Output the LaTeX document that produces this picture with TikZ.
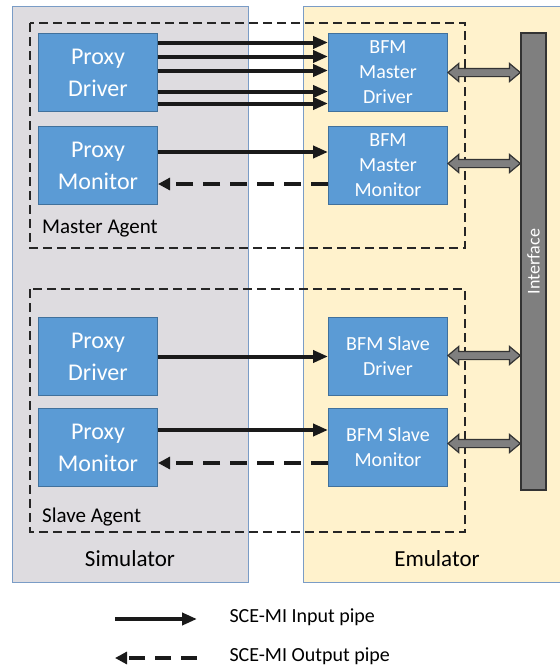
\documentclass[tikz,border=0pt]{standalone}
\usepackage{fontspec}
\setmainfont{Carlito}
\usetikzlibrary{arrows.meta,positioning,shapes.arrows,calc}
\definecolor{boxblue}{HTML}{5B9BD5}
\definecolor{boxedge}{HTML}{41719C}
\definecolor{simgray}{HTML}{DEDCE0}
\definecolor{emuyellow}{HTML}{FFF2CC}
\definecolor{zoneedge}{HTML}{7A9CC6}
\definecolor{ifgray}{HTML}{7F7F7F}
\definecolor{pipeblack}{HTML}{1A1A1A}

\begin{document}
\begin{tikzpicture}[x=1pt, y=-1pt,
  zone/.style={draw=zoneedge, line width=1pt, anchor=north west, inner sep=0pt},
  agent/.style={draw=black!85, line width=1.2pt, dash pattern=on 9pt off 5pt},
  proxy/.style={draw=boxedge, fill=boxblue, text=white, line width=1pt, anchor=north west,
                minimum width=119pt, minimum height=78pt, align=center,
                font=\fontsize{24}{32}\selectfont},
  bfm/.style={proxy, font=\fontsize{20}{25}\selectfont},
  tag/.style={anchor=base west, font=\fontsize{21}{24}\selectfont, inner sep=0pt},
  zonename/.style={anchor=base, font=\fontsize{23}{26}\selectfont, inner sep=0pt},
  inpipe/.style={draw=pipeblack, line width=4pt, -{Triangle[length=15pt,width=12pt]}},
  outpipe/.style={draw=pipeblack, line width=4pt, dash pattern=on 17pt off 10pt,
                  -{Triangle[length=12pt,width=12pt]}},
  fatlink/.style={double arrow, draw=black!80, fill=ifgray, line width=1.2pt,
                  inner xsep=0pt, inner ysep=3.5pt, minimum width=17pt,
                  double arrow head extend=5pt, double arrow tip angle=80}]
\useasboundingbox (0,0) rectangle (560,670);

% simulator and emulator sides
\node[zone, fill=simgray, minimum width=236pt, minimum height=576pt] (sim) at (12,6) {};
\node[zone, fill=emuyellow, minimum width=262pt, minimum height=576pt] (emu) at (303,6) {};
\node[zonename] at (130,566) {Simulator};
\node[zonename] at (437,566) {Emulator};

% agents
\draw[agent] (30,23) rectangle (465,248);
\draw[agent] (30,289) rectangle (465,532);
\node[tag] (mtag) at (42,233) {Master Agent};
\node[tag] (stag) at (42,522) {Slave Agent};

% proxies on the simulator
\node[proxy] (mpd) at (38,33) {Proxy\\Driver};
\node[proxy] (mpm) at (38,126) {Proxy\\Monitor};
\node[proxy] (spd) at (38,317) {Proxy\\Driver};
\node[proxy] (spm) at (38,408) {Proxy\\Monitor};

% BFMs on the emulator
\node[bfm] (mbd) at (328,33) {BFM\\Master\\Driver};
\node[bfm] (mbm) at (328,126) {BFM\\Master\\Monitor};
\node[bfm] (sbd) at (328,317) {BFM Slave\\Driver};
\node[bfm] (sbm) at (328,408) {BFM Slave\\Monitor};

% interface bar
\node[draw=black!80, fill=ifgray, line width=1.5pt, rotate=90, minimum width=457pt,
      minimum height=25pt, inner sep=0pt, text=white, font=\fontsize{18}{20}\selectfont]
  (iface) at (533.5,261.5) {Interface};

% input pipes
\foreach \dy in {30,16,2,-19,-31}
  \draw[inpipe] ([yshift=\dy pt]mpd.east) -- ([yshift=\dy pt]mbd.west);
\draw[inpipe] ([yshift=13.5pt]mpm.east) -- ([yshift=13.5pt]mbm.west);
\draw[inpipe] (spd.east) -- (sbd.west);
\draw[inpipe] ([yshift=17.5pt]spm.east) -- ([yshift=17.5pt]sbm.west);

% output pipes
\draw[outpipe] ([yshift=-18.5pt]mbm.west) -- ([yshift=-18.5pt]mpm.east);
\draw[outpipe] ([yshift=-15.5pt]sbm.west) -- ([yshift=-15.5pt]spm.east);

% links to the interface
\foreach \b/\dy in {mbd/0, mbm/2, sbd/1, sbm/4}
  \path let \p1 = ($(iface.north |- \b.east)-(\b.east)$) in
    node[fatlink, minimum height=\x1]
      at ($([yshift=\dy pt]\b.east)!0.5!([yshift=\dy pt]iface.north |- \b.east)$) {};

% legend
\coordinate (inA) at (115,619);
\coordinate (inB) at (197,619);
\coordinate (outA) at (197,658);
\coordinate (outB) at (115,658);
\draw[inpipe] (inA) -- (inB);
\draw[outpipe, dash pattern=on 16pt off 10pt] (outA) -- (outB);
\node[anchor=west, font=\fontsize{20}{24}\selectfont] (inkey) at (226,617) {SCE-MI Input pipe};
\node[anchor=west, font=\fontsize{20}{24}\selectfont] (outkey) at (226,656) {SCE-MI Output pipe};
\end{tikzpicture}
\end{document}
